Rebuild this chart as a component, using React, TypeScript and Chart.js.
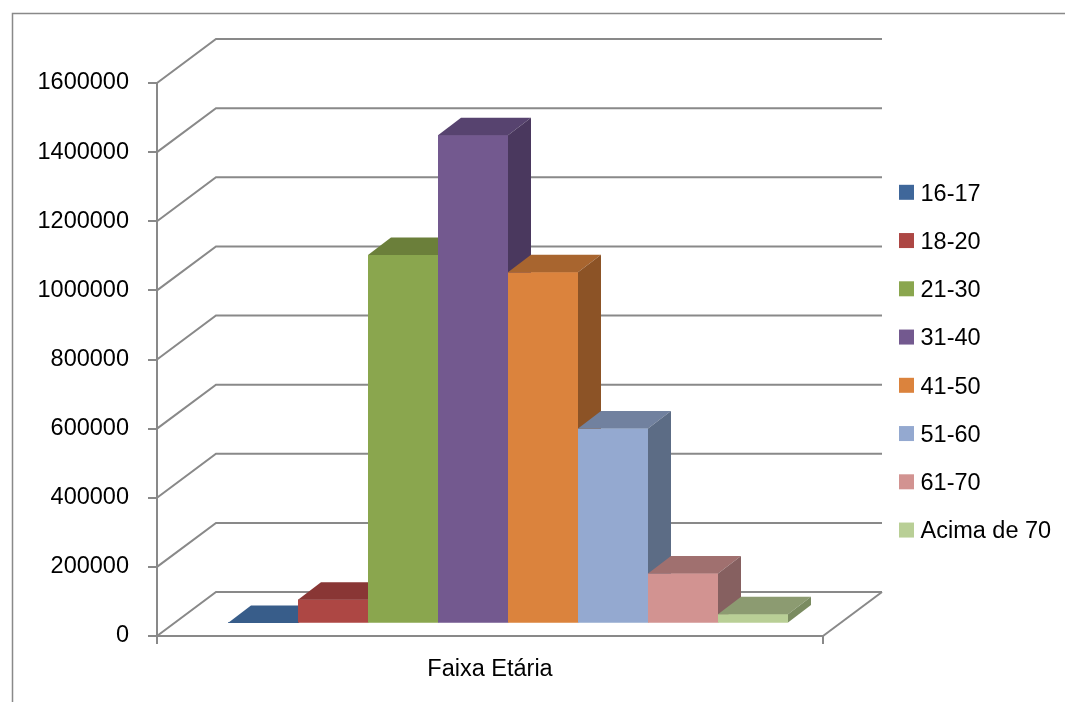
import { useEffect, useRef } from "react";
import { Chart, registerables } from "chart.js";

Chart.register(...registerables);

// Age groups (one series per group) on a single category
const categories = ["Faixa Etária"];
const seriesLabels = ["16-17", "18-20", "21-30", "31-40", "41-50", "51-60", "61-70", "Acima de 70"];
const seriesValues = [1500, 69000, 1066000, 1413000, 1016000, 564000, 145000, 27000];
const yTickValues = [0, 200000, 400000, 600000, 800000, 1000000, 1200000, 1400000, 1600000];

// Face colours for each series: front, top and right side
const frontColors = ["#3F679A", "#AD4744", "#8AA64E", "#73598F", "#DB833D", "#94A9D0", "#D29391", "#B9CF96"];
const topColors = ["#385D8A", "#893635", "#6B7F3A", "#57436F", "#A8652F", "#71819F", "#A0706F", "#8C9B71"];
const sideColors = ["#2F4E74", "#763030", "#5B6D33", "#4A385E", "#8C5326", "#5C6C85", "#866060", "#7A8B60"];

const FONT = "Liberation Sans, Arial, sans-serif";
const FONT_SIZE = 23.5;
const LINE = "#898989";

// Oblique projection offsets
const WALL_DX = 59;
const WALL_DY = -44;
const BAR_SHIFT_X = 18;
const BAR_SHIFT_Y = -12.5;
const BAR_DEPTH_X = 23;
const BAR_DEPTH_Y = -17.5;

const box3d = {
  id: "box3d",
  beforeDraw(chart: any) {
    const ctx = chart.ctx;
    ctx.save();
    ctx.fillStyle = "#ffffff";
    ctx.fillRect(0, 0, chart.width, chart.height);
    ctx.strokeStyle = LINE;
    ctx.lineWidth = 1.5;
    ctx.strokeRect(12.5, 13.5, chart.width + 50, chart.height + 50);
    ctx.restore();
  },
  beforeDatasetsDraw(chart: any) {
    const ctx = chart.ctx;
    const y = chart.scales.y;
    const { left, right, bottom } = chart.chartArea;
    ctx.save();
    ctx.strokeStyle = LINE;
    ctx.lineWidth = 2;
    for (const v of yTickValues) {
      const py = y.getPixelForValue(v);
      ctx.beginPath();
      ctx.moveTo(left, py);
      ctx.lineTo(left + WALL_DX, py + WALL_DY);
      ctx.lineTo(right + WALL_DX, py + WALL_DY);
      ctx.stroke();
    }
    // right edge of the floor
    ctx.beginPath();
    ctx.moveTo(right, bottom);
    ctx.lineTo(right + WALL_DX, bottom + WALL_DY);
    ctx.stroke();
    ctx.restore();

    ctx.save();
    ctx.translate(BAR_SHIFT_X, BAR_SHIFT_Y);
  },
  afterDatasetsDraw(chart: any) {
    const ctx = chart.ctx;
    // paint the boxes left to right so each front face hides its left neighbour's side
    chart.data.datasets.forEach((_ds: any, i: number) => {
      const meta = chart.getDatasetMeta(i);
      for (const el of meta.data) {
        const p = el.getProps(["x", "y", "base", "width"], true);
        const l = p.x - p.width / 2;
        const r = p.x + p.width / 2;
        // front face
        ctx.fillStyle = frontColors[i];
        ctx.fillRect(l, p.y, p.width, p.base - p.y);
        // top face
        ctx.beginPath();
        ctx.moveTo(l, p.y);
        ctx.lineTo(l + BAR_DEPTH_X, p.y + BAR_DEPTH_Y);
        ctx.lineTo(r + BAR_DEPTH_X, p.y + BAR_DEPTH_Y);
        ctx.lineTo(r, p.y);
        ctx.closePath();
        ctx.fillStyle = topColors[i];
        ctx.fill();
        // right side face
        ctx.beginPath();
        ctx.moveTo(r, p.y);
        ctx.lineTo(r + BAR_DEPTH_X, p.y + BAR_DEPTH_Y);
        ctx.lineTo(r + BAR_DEPTH_X, p.base + BAR_DEPTH_Y);
        ctx.lineTo(r, p.base);
        ctx.closePath();
        ctx.fillStyle = sideColors[i];
        ctx.fill();
      }
    });
    ctx.restore();

    // legend
    ctx.save();
    ctx.font = `${FONT_SIZE}px ${FONT}`;
    ctx.textBaseline = "alphabetic";
    ctx.textAlign = "left";
    chart.data.datasets.forEach((ds: any, i: number) => {
      const cy = 192.3 + i * 48.25;
      ctx.fillStyle = frontColors[i];
      ctx.fillRect(899, cy - 7.5, 15, 15);
      ctx.fillStyle = "#000000";
      ctx.fillText(ds.label, 920.5, cy + 8.4);
    });
    ctx.restore();
  },
};

export default function App() {
  const ref = useRef<HTMLCanvasElement | null>(null);

  useEffect(() => {
    if (!ref.current) return;
    const chart = new Chart(ref.current, {
      type: "bar",
      data: {
        labels: categories,
        datasets: seriesLabels.map((label, i) => ({
          label,
          data: [seriesValues[i]],
          backgroundColor: frontColors[i],
          borderWidth: 0,
          clip: false as any,
          categoryPercentage: 560 / 666,
          barPercentage: 1,
        })),
      },
      options: {
        responsive: false,
        animation: false,
        events: [],
        layout: { padding: { left: 0, top: 83, right: 242, bottom: 0 } },
        plugins: {
          legend: { display: false },
          tooltip: { enabled: false },
        },
        scales: {
          x: {
            offset: true,
            afterFit: (s: any) => {
              s.height = 66;
            },
            grid: {
              offset: true,
              drawOnChartArea: false,
              drawTicks: true,
              tickLength: 8,
              color: LINE,
              lineWidth: 2,
            },
            border: { display: true, color: LINE, width: 2 },
            ticks: {
              color: "#000000",
              font: { family: FONT, size: FONT_SIZE },
              padding: 11,
              maxRotation: 0,
            },
          },
          y: {
            min: 0,
            max: 1600000,
            afterFit: (s: any) => {
              s.width = 157;
            },
            afterBuildTicks: (s: any) => {
              s.ticks = yTickValues.map((v) => ({ value: v }));
            },
            grid: {
              drawOnChartArea: false,
              drawTicks: true,
              tickLength: 9,
              color: LINE,
              lineWidth: 2,
            },
            border: { display: true, color: LINE, width: 2 },
            ticks: {
              color: "#000000",
              font: { family: FONT, size: FONT_SIZE },
              padding: 19,
              callback: (v: any) => String(v),
            },
          },
        },
      },
      plugins: [box3d],
    });
    return () => chart.destroy();
  }, []);

  return (
    <canvas
      ref={ref}
      width={1065}
      height={702}
      style={{ position: "fixed", left: 0, top: 0, width: 1065, height: 702, display: "block" }}
    />
  );
}
